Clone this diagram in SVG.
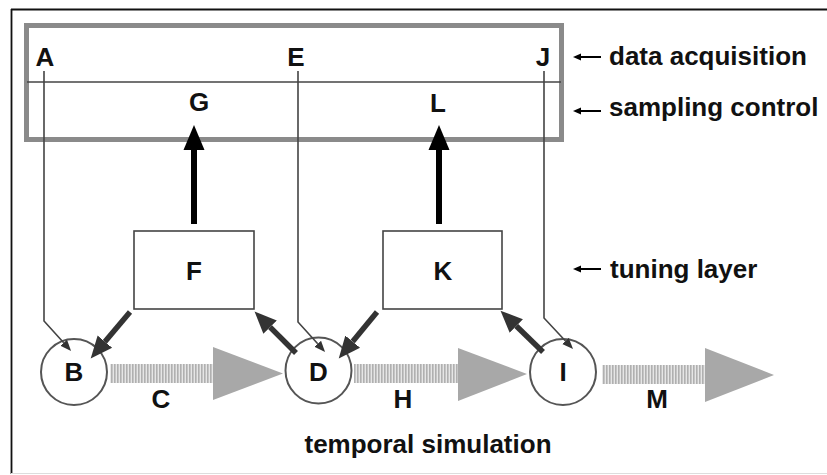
<svg xmlns="http://www.w3.org/2000/svg" width="827" height="475" viewBox="0 0 827 475">
<style>
text{font-family:"Liberation Sans",Arial,sans-serif;font-weight:bold;font-size:26px;fill:#111}
.mid{text-anchor:middle}
.thin{fill:none;stroke:#444;stroke-width:1.6}
.thick{stroke:#333;stroke-width:5.5;fill:none}
.up{stroke:#000;stroke-width:6;fill:none}
.node{fill:#fff;stroke:#555;stroke-width:2}
.box{fill:#fff;stroke:#444;stroke-width:1.6}
.shaft{fill:url(#hatch)}
.head{fill:#a8a8a8}
.lbl{stroke:#000;stroke-width:2}
</style>
<defs>
<pattern id="hatch" width="3" height="10" patternUnits="userSpaceOnUse">
<rect width="3" height="10" fill="#e6e6e6"/>
<rect width="1.6" height="10" fill="#b0b0b0"/>
</pattern>
<marker id="mThick" markerUnits="userSpaceOnUse" markerWidth="23" markerHeight="21" viewBox="0 0 23 21" refX="0" refY="10.5" orient="auto">
<path d="M0,1 L22,10.5 L0,20 Z" fill="#333"/>
</marker>
<marker id="mUp" markerUnits="userSpaceOnUse" markerWidth="26" markerHeight="22" viewBox="0 0 26 22" refX="0" refY="11" orient="auto">
<path d="M0,0.5 L25,11 L0,21.5 Z" fill="#000"/>
</marker>
<marker id="mThin" markerUnits="userSpaceOnUse" markerWidth="12" markerHeight="10" viewBox="0 0 12 10" refX="0" refY="5" orient="auto">
<path d="M0,0.5 L11,5 L0,9.5 Z" fill="#333"/>
</marker>
<marker id="mSmall" markerUnits="userSpaceOnUse" markerWidth="9" markerHeight="8" viewBox="0 0 9 8" refX="0" refY="4" orient="auto">
<path d="M0,0.5 L8,4 L0,7.5 Z" fill="#000"/>
</marker>
</defs>

<rect width="827" height="475" fill="#fff"/>
<g id="frame">
<line x1="11" y1="9.5" x2="827" y2="9.5" stroke="#111" stroke-width="1.8"/>
<line x1="11.5" y1="9" x2="11.5" y2="474" stroke="#111" stroke-width="1.8"/>
<line x1="11" y1="473.5" x2="827" y2="473.5" stroke="#ddd" stroke-width="1"/>
</g>

<g id="layers">
<rect x="26.5" y="25.5" width="535" height="114" fill="none" stroke="#8a8a8a" stroke-width="5"/>
<line x1="27" y1="82" x2="561" y2="82" stroke="#444" stroke-width="1.4"/>
</g>

<g id="flow-C">
<rect class="shaft" x="110" y="364" width="103" height="19"/>
<path class="head" d="M213,347 L283,373.5 L213,400 Z"/>
</g>
<g id="flow-H">
<rect class="shaft" x="354" y="364" width="104" height="19"/>
<path class="head" d="M458,348 L527,374 L458,401 Z"/>
</g>
<g id="flow-M">
<rect class="shaft" x="602" y="365" width="103" height="19"/>
<path class="head" d="M705,348 L774,375 L705,402 Z"/>
</g>

<g id="node-B"><circle class="node" cx="74" cy="372" r="33"/><text class="mid" x="74" y="381">B</text></g>
<g id="node-D"><circle class="node" cx="318.5" cy="370.5" r="33"/><text class="mid" x="318.5" y="381">D</text></g>
<g id="node-I"><circle class="node" cx="563" cy="372" r="33"/><text class="mid" x="563" y="381">I</text></g>
<g id="node-F"><rect class="box" x="134" y="231" width="120" height="78"/><text class="mid" x="194" y="280">F</text></g>
<g id="node-K"><rect class="box" x="383" y="231" width="119" height="78"/><text class="mid" x="443" y="280">K</text></g>

<g id="connectors">
<path class="thin" d="M44,71 V321 L63.7,342.8" marker-end="url(#mThin)"/>
<path class="thin" d="M298,71 V322 L317.7,343.8" marker-end="url(#mThin)"/>
<path class="thin" d="M544,71 V318 L565.5,341" marker-end="url(#mThin)"/>
<line class="up" x1="194" y1="224" x2="194" y2="150" marker-end="url(#mUp)"/>
<line class="up" x1="439" y1="224" x2="439" y2="150" marker-end="url(#mUp)"/>
<line class="thick" x1="130" y1="312" x2="104.9" y2="341.7" marker-end="url(#mThick)"/>
<line class="thick" x1="296" y1="353" x2="270.1" y2="327.1" marker-end="url(#mThick)"/>
<line class="thick" x1="377" y1="312" x2="352.7" y2="341.6" marker-end="url(#mThick)"/>
<line class="thick" x1="543" y1="352" x2="516.3" y2="326" marker-end="url(#mThick)"/>
</g>

<g id="node-A"><text class="mid" x="45" y="66">A</text></g>
<g id="node-E"><text class="mid" x="296" y="66">E</text></g>
<g id="node-J"><text class="mid" x="543" y="66">J</text></g>
<g id="node-G"><text class="mid" x="199" y="111">G</text></g>
<g id="node-L"><text class="mid" x="438" y="112">L</text></g>
<g id="label-C"><text class="mid" x="161" y="408">C</text></g>
<g id="label-H"><text class="mid" x="403" y="408">H</text></g>
<g id="label-M"><text class="mid" x="657" y="408">M</text></g>

<g id="legend">
<line class="lbl" x1="601" y1="57" x2="581" y2="57" marker-end="url(#mSmall)"/>
<text x="609" y="65">data acquisition</text>
<line class="lbl" x1="601" y1="111" x2="581" y2="111" marker-end="url(#mSmall)"/>
<text x="609" y="116">sampling control</text>
<line class="lbl" x1="601" y1="269" x2="581" y2="269" marker-end="url(#mSmall)"/>
<text x="610" y="278">tuning layer</text>
<text class="mid" x="428" y="453">temporal simulation</text>
</g>
</svg>
